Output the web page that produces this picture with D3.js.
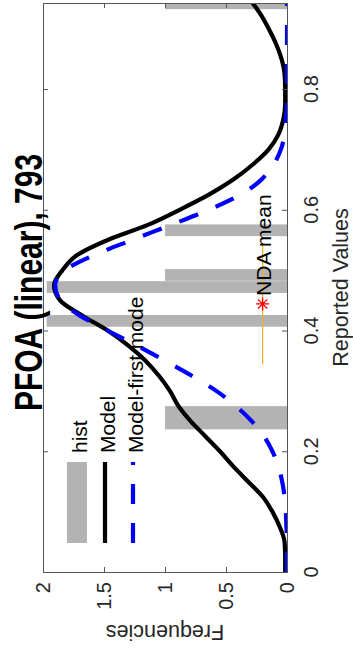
<!DOCTYPE html>
<html><head><meta charset="utf-8">
<script src="https://cdn.jsdelivr.net/npm/d3@7"></script>
<style>html,body{margin:0;padding:0;background:#fff;}svg{display:block;}</style>
</head><body>
<script>
// ---- data ----
const titleText = "PFOA (linear), 793";
const valueTicks = [0, 0.2, 0.4, 0.6, 0.8];
const valueTickLabels = ["0", "0.2", "0.4", "0.6", "0.8"];
const freqTicks = [0, 0.5, 1, 1.5, 2];
const freqTickLabels = ["0", "0.5", "1", "1.5", "2"];
const histCenters = [0.246, 0.265, 0.416, 0.472, 0.492, 0.566, 0.942];
const histCounts  = [1, 1, 1.97, 1.97, 1, 1, 1];
const histBinWidth = 0.0195;
const curveValues = [0,0.025,0.05,0.075,0.1,0.125,0.15,0.175,0.2,0.225,0.25,0.275,0.3,0.325,0.35,0.375,0.4,0.425,0.45,0.475,0.5,0.525,0.55,0.575,0.6,0.625,0.65,0.675,0.7,0.725,0.75,0.775,0.8,0.825,0.85,0.875,0.9,0.925,0.95];
const modelFreq = [0.015,0.015,0.02,0.06,0.12,0.20,0.32,0.44,0.55,0.67,0.79,0.89,0.96,1.05,1.16,1.30,1.47,1.68,1.86,1.91,1.84,1.72,1.47,1.14,0.88,0.64,0.44,0.28,0.15,0.07,0.03,0.015,0.015,0.02,0.045,0.09,0.15,0.22,0.31];
const firstModeFreq = [0,0,0,0.005,0.01,0.02,0.04,0.07,0.12,0.19,0.29,0.42,0.58,0.78,1.00,1.23,1.47,1.70,1.86,1.90,1.82,1.58,1.27,0.95,0.64,0.38,0.21,0.11,0.05,0.02,0.01,0,0,0,0,0,0,0,0];
const ndaMean = 0.444, ndaLow = 0.344, ndaHigh = 0.545, ndaFreq = 0.2;
const ndaLabel = "NDA mean";
const legendLabels = ["hist", "Model", "Model-first mode"];

// ---- layout ----
const W = 353, H = 651;
const plot = {left: 43, right: 287, top: 3, bottom: 572};
const FONT = "'Liberation Sans', Arial, Helvetica, sans-serif";

const yV = d3.scaleLinear().domain([0, 0.9425]).range([plot.bottom, plot.top]);
const xF = d3.scaleLinear().domain([0, 2]).range([plot.right, plot.left]);

const svg = d3.select("body").append("svg").attr("width", W).attr("height", H)
  .style("font-family", FONT);

svg.append("defs").append("clipPath").attr("id", "clip")
  .append("rect").attr("x", plot.left).attr("y", plot.top)
  .attr("width", plot.right - plot.left).attr("height", plot.bottom - plot.top);

const g = svg.append("g").attr("clip-path", "url(#clip)");

// histogram bars
g.selectAll("rect.bar").data(histCenters.map((c, i) => ({c, n: histCounts[i]})))
  .join("rect").attr("class", "bar")
  .attr("x", d => xF(d.n)).attr("width", d => xF(0) - xF(d.n))
  .attr("y", d => yV(d.c + histBinWidth / 2))
  .attr("height", d => yV(d.c - histBinWidth / 2) - yV(d.c + histBinWidth / 2))
  .attr("fill", "#b3b3b3");

const line = d3.line().x(d => xF(d[1])).y(d => yV(d[0])).curve(d3.curveMonotoneY);

g.append("path").datum(curveValues.map((v, i) => [v, modelFreq[i]]))
  .attr("d", line).attr("fill", "none").attr("stroke", "#000").attr("stroke-width", 4.2);

g.append("path").datum(curveValues.map((v, i) => [v, firstModeFreq[i]]))
  .attr("d", line).attr("fill", "none").attr("stroke", "#0000ff").attr("stroke-width", 4.2)
  .attr("stroke-dasharray", "20,19");

// NDA mean
g.append("line").attr("x1", xF(ndaFreq)).attr("x2", xF(ndaFreq))
  .attr("y1", yV(ndaLow)).attr("y2", yV(ndaHigh))
  .attr("stroke", "#EDB120").attr("stroke-width", 1.2);
const star = {draw(ctx, size) { const r = Math.sqrt(size) / 2; const d = r * Math.SQRT1_2;
  ctx.moveTo(-r, 0); ctx.lineTo(r, 0); ctx.moveTo(0, -r); ctx.lineTo(0, r);
  ctx.moveTo(-d, -d); ctx.lineTo(d, d); ctx.moveTo(-d, d); ctx.lineTo(d, -d); }};
g.append("path").attr("d", d3.symbol().type(star).size(170)())
  .attr("transform", `translate(${xF(ndaFreq)},${yV(ndaMean)})`)
  .attr("fill", "none").attr("stroke", "#ff0000").attr("stroke-width", 1.3);
svg.append("text").text(ndaLabel)
  .attr("transform", `translate(${xF(ndaFreq) + 8},${yV(ndaMean) - 8}) rotate(-90)`)
  .attr("font-size", 21).attr("fill", "#000");

// axes box + ticks
const axCol = "#555";
const tickLen = 5;
svg.append("g").attr("transform", `translate(${plot.left},0)`)
  .call(d3.axisRight(yV).tickValues(valueTicks).tickSize(tickLen).tickFormat(""))
  .call(a => a.select(".domain").remove());
svg.append("g").attr("transform", `translate(${plot.right},0)`)
  .call(d3.axisLeft(yV).tickValues(valueTicks).tickSize(tickLen).tickFormat(""))
  .call(a => a.select(".domain").remove());
svg.append("g").attr("transform", `translate(0,${plot.bottom})`)
  .call(d3.axisTop(xF).tickValues(freqTicks).tickSize(tickLen).tickFormat(""))
  .call(a => a.select(".domain").remove());
svg.append("g").attr("transform", `translate(0,${plot.top})`)
  .call(d3.axisBottom(xF).tickValues(freqTicks).tickSize(tickLen).tickFormat(""))
  .call(a => a.select(".domain").remove());
svg.selectAll(".tick line").attr("stroke", axCol);
svg.append("rect").attr("x", plot.left + 0.5).attr("y", plot.top + 0.5)
  .attr("width", plot.right - plot.left).attr("height", plot.bottom - plot.top)
  .attr("fill", "none").attr("stroke", axCol).attr("stroke-width", 1);

// tick labels
const labCol = "#262626";
svg.selectAll("text.vt").data(valueTicks).join("text").attr("class", "vt")
  .text((d, i) => valueTickLabels[i])
  .attr("transform", d => `translate(318,${yV(d)}) rotate(-90)`)
  .attr("text-anchor", "middle").attr("font-size", 20).attr("fill", labCol);
svg.selectAll("text.ft").data(freqTicks).join("text").attr("class", "ft")
  .text((d, i) => freqTickLabels[i])
  .attr("transform", d => `translate(${xF(d) + 7},582) rotate(-90)`)
  .attr("text-anchor", "end").attr("font-size", 20).attr("fill", labCol);

svg.append("text").text("Reported Values")
  .attr("transform", `translate(348,${(plot.top + plot.bottom) / 2}) rotate(-90)`)
  .attr("text-anchor", "middle").attr("font-size", 21.5).attr("fill", labCol);
svg.append("text").text("Frequencies")
  .attr("transform", `translate(${(plot.left + plot.right) / 2},625) rotate(180)`)
  .attr("text-anchor", "middle").attr("font-size", 21.5).attr("fill", labCol);
svg.append("text").text(titleText)
  .attr("transform", `translate(42,${(plot.top + plot.bottom) / 2 - 5}) rotate(-90) scale(1,1.27)`)
  .attr("text-anchor", "middle").attr("font-size", 30).attr("font-weight", "bold").attr("fill", "#000");

// legend
const legRows = [77, 105, 133];
const legY0 = 543, legY1 = 462, legTextY = 453;
svg.append("rect").attr("x", legRows[0] - 10).attr("y", legY1).attr("width", 20).attr("height", legY0 - legY1)
  .attr("fill", "#b3b3b3");
svg.append("line").attr("x1", legRows[1]).attr("x2", legRows[1]).attr("y1", legY0).attr("y2", legY1)
  .attr("stroke", "#000").attr("stroke-width", 4.2);
svg.append("line").attr("x1", legRows[2]).attr("x2", legRows[2]).attr("y1", legY0).attr("y2", legY1)
  .attr("stroke", "#0000ff").attr("stroke-width", 4.2).attr("stroke-dasharray", "20,19");
svg.selectAll("text.leg").data(legendLabels).join("text").attr("class", "leg")
  .text(d => d)
  .attr("transform", (d, i) => `translate(${legRows[i] + 10},${legTextY}) rotate(-90)`)
  .attr("font-size", 21).attr("fill", "#000");
</script>
</body></html>
